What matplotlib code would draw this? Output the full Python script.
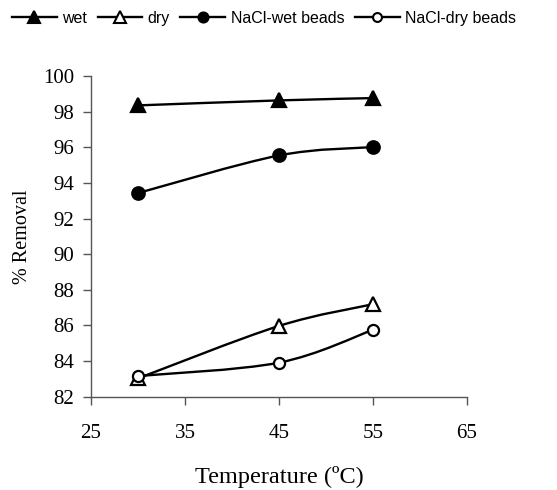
import matplotlib
matplotlib.use("Agg")
import matplotlib.pyplot as plt
from matplotlib.path import Path
from matplotlib.patches import PathPatch
from matplotlib.lines import Line2D
import numpy as np

plt.rcParams["font.family"] = ["Liberation Serif", "DejaVu Serif"]

temperature = [30, 45, 55]
wet = [98.35, 98.63, 98.76]
dry = [83.03, 85.97, 87.19]
nacl_wet = [93.43, 95.54, 96.01]
nacl_dry = [83.16, 83.91, 85.75]
series_names = ["wet", "dry", "NaCl-wet beads", "NaCl-dry beads"]
x_ticks = [25, 35, 45, 55, 65]
y_ticks = [82, 84, 86, 88, 90, 92, 94, 96, 98, 100]

fig = plt.figure(figsize=(5.57, 4.9), dpi=100)
ax = fig.add_axes([0.1634, 0.1904, 0.838 - 0.1634, 0.8449 - 0.1904])


def smooth_path(xs, ys):
    pts = np.column_stack([xs, ys]).astype(float)
    n = len(pts)
    verts = [tuple(pts[0])]
    codes = [Path.MOVETO]
    for i in range(n - 1):
        p0 = pts[i - 1] if i > 0 else pts[i]
        p1 = pts[i]
        p2 = pts[i + 1]
        p3 = pts[i + 2] if i + 2 < n else pts[i + 1]
        c1 = p1 + (p2 - p0) / 6.0
        c2 = p2 - (p3 - p1) / 6.0
        verts += [tuple(c1), tuple(c2), tuple(p2)]
        codes += [Path.CURVE4] * 3
    return Path(verts, codes)


styles = [
    dict(marker="^", mfc="black", ms=10.5),
    dict(marker="^", mfc="white", ms=10),
    dict(marker="o", mfc="black", ms=9),
    dict(marker="o", mfc="white", ms=8),
]
data = [wet, dry, nacl_wet, nacl_dry]
handles = []
for vals, st, name in zip(data, styles, series_names):
    patch = PathPatch(smooth_path(temperature, vals), facecolor="none",
                      edgecolor="black", lw=1.7, zorder=2)
    ax.add_patch(patch)
    ax.plot(temperature, vals, ls="none", marker=st["marker"], ms=st["ms"],
            mfc=st["mfc"], mec="black", mew=1.6, zorder=3)
    handles.append(Line2D([], [], color="black", lw=1.7, marker=st["marker"],
                          ms=st["ms"] * 0.8, mfc=st["mfc"], mec="black", mew=1.5))

ax.set_xlim(25, 65)
ax.set_ylim(82, 100)
ax.set_xticks(x_ticks)
ax.set_yticks(y_ticks)
for s in ["top", "right"]:
    ax.spines[s].set_visible(False)
for s in ["left", "bottom"]:
    ax.spines[s].set_color("#555555")
    ax.spines[s].set_linewidth(1.0)
ax.tick_params(direction="out", length=6, width=1.0, color="#555555",
               labelsize=15)
ax.tick_params(axis="y", pad=6)
ax.tick_params(axis="x", pad=14)

ax.set_xlabel("Temperature (ºC)", fontsize=17.5, labelpad=16)
ax.set_ylabel("% Removal", fontsize=14.5, labelpad=8)

fig.legend(handles, series_names, loc="upper left", bbox_to_anchor=(0.0, 1.003),
           ncol=4, frameon=False, handlelength=2.8, handletextpad=0.35,
           columnspacing=0.65, borderpad=0.25,
           prop={"family": "Liberation Sans", "size": 11.5})

fig.savefig("out.png", dpi=100)
